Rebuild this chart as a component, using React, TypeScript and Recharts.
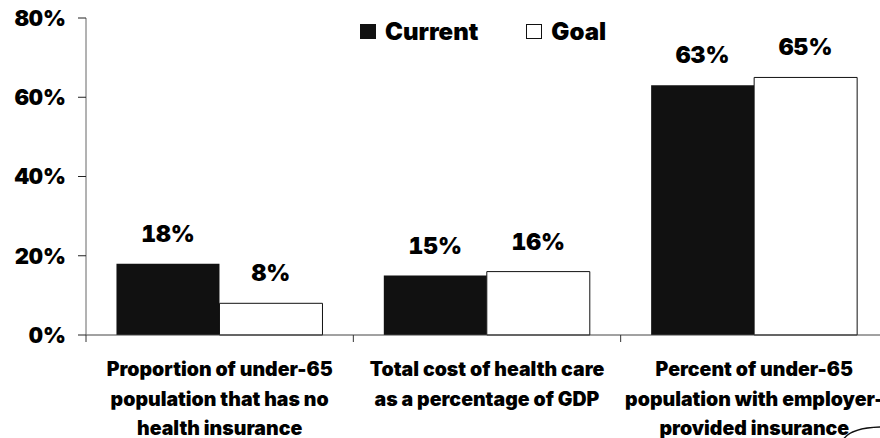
import React from 'react';
import { BarChart, Bar, XAxis, YAxis, LabelList } from 'recharts';

// Category labels (each one split into its printed lines)
const categories = [
  ['Proportion of under-65', 'population that has no', 'health insurance'],
  ['Total cost of health care', 'as a percentage of GDP'],
  ['Percent of under-65', 'population with employer-', 'provided insurance'],
];
const currentValues = [18, 15, 63];
const goalValues = [8, 16, 65];
const yTicks = [0, 20, 40, 60, 80];

const series = [
  { key: 'current', name: 'Current', fill: '#111111' },
  { key: 'goal', name: 'Goal', fill: '#ffffff' },
];

const data = categories.map((lines, i) => ({
  name: lines.join(' '),
  current: currentValues[i],
  goal: goalValues[i],
}));

const FONT = 'Inter, "Liberation Sans", Arial, sans-serif';
const numStyle = { fontVariantNumeric: 'tabular-nums' } as React.CSSProperties;

// category label + tick marks on the category boundaries
const CategoryTick = (props: any) => {
  const { x, y, index, width, visibleTicksCount } = props;
  const band = width / visibleTicksCount;
  const lines = categories[index] || [];
  const left = x - band / 2;
  const right = x + band / 2;
  return (
    <g>
      <line x1={left} x2={left} y1={y} y2={y + 7} stroke="#333" />
      {index === visibleTicksCount - 1 && (
        <line x1={right} x2={right} y1={y} y2={y + 7} stroke="#333" />
      )}
      <text x={x} y={y} textAnchor="middle" fontFamily={FONT} fontWeight={900} fontSize={19.5} fill="#000">
        {lines.map((l, i) => (
          <tspan key={i} x={x} y={y + 41 + i * 29.5}>
            {l}
          </tspan>
        ))}
      </text>
    </g>
  );
};

const pct = (v: number) => `${v}%`;

export default function App() {
  return (
    <div
      style={{
        position: 'absolute',
        left: 0,
        top: 0,
        width: 880,
        height: 438,
        overflow: 'hidden',
        background: '#fff',
      }}
    >
      <BarChart
        width={890}
        height={438}
        data={data}
        margin={{ top: 18, right: 2, bottom: 3, left: 0 }}
        barCategoryGap="11.4%"
        barGap={0}
      >
        <XAxis
          dataKey="name"
          interval={0}
          height={100}
          tickLine={false}
          tickSize={0}
          tickMargin={0}
          tick={<CategoryTick />}
          stroke="#444"
        />
        <YAxis
          width={86}
          domain={[0, 80]}
          ticks={yTicks}
          tickFormatter={pct}
          tickSize={8}
          tickMargin={12}
          stroke="#666"
          tickLine={{ stroke: '#222' }}
          tick={{ fontFamily: FONT, fontWeight: 900, fontSize: 22, fill: '#000', style: numStyle }}
        />
        {series.map((s) => (
          <Bar
            key={s.key}
            dataKey={s.key}
            name={s.name}
            fill={s.fill}
            stroke={s.key === 'goal' ? '#111' : 'none'}
            strokeWidth={1}
            isAnimationActive={false}
          >
            <LabelList
              dataKey={s.key}
              position="top"
              offset={22}
              formatter={pct}
              style={{ fontFamily: FONT, fontWeight: 900, fontSize: 23, fill: '#000', ...numStyle }}
            />
          </Bar>
        ))}
      </BarChart>

      {/* legend */}
      <div
        style={{
          position: 'absolute',
          left: 360,
          top: 17,
          display: 'flex',
          alignItems: 'center',
          fontFamily: FONT,
          fontWeight: 900,
          fontSize: 24,
          color: '#000',
        }}
      >
        {series.map((s, i) => (
          <div
            key={s.key}
            style={{ display: 'flex', alignItems: 'center', marginRight: i === 0 ? 48 : 0 }}
          >
            <span
              style={{
                display: 'inline-block',
                width: 16,
                height: 15,
                boxSizing: 'border-box',
                background: s.fill,
                border: '1px solid #111',
                marginRight: 9,
              }}
            />
            <span>{s.name}</span>
          </div>
        ))}
      </div>

      {/* stray pen stroke at the bottom right of the original */}
      <svg
        width={880}
        height={438}
        style={{ position: 'absolute', left: 0, top: 0, pointerEvents: 'none' }}
      >
        <path d="M 843 440 Q 850 428 880 427" fill="none" stroke="#111" strokeWidth={1.5} />
      </svg>
    </div>
  );
}
